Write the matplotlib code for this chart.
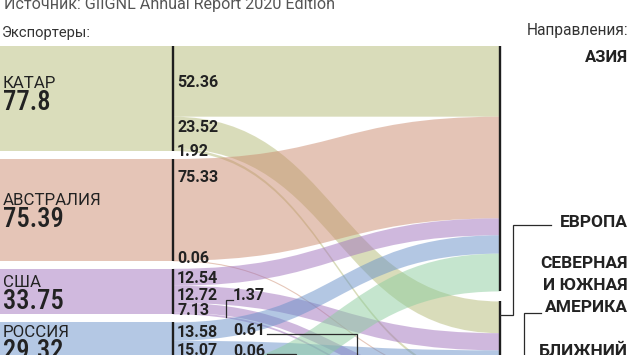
import matplotlib
matplotlib.use("Agg")
import matplotlib.pyplot as plt
from matplotlib.path import Path
from matplotlib.patches import PathPatch, Rectangle
from matplotlib import font_manager as fm
from matplotlib.font_manager import FontProperties
from matplotlib.textpath import TextPath

# ---------------- data ----------------
exporters = ["КАТАР", "АВСТРАЛИЯ", "США", "РОССИЯ", "МАЛАЙЗИЯ"]
exporter_totals = [77.8, 75.39, 33.75, 29.32, 28.0]
destinations = ["АЗИЯ", "ЕВРОПА", "АМЕРИКА", "БЛИЖНИЙ ВОСТОК"]
flow_src = [0, 0, 0, 1, 1, 2, 2, 2, 2, 3, 3, 3, 3, 4]
flow_dst = [0, 1, 2, 0, 2, 0, 1, 2, 3, 0, 1, 2, 3, 0]
flow_val = [52.36, 23.52, 1.92, 75.33, 0.06, 12.54, 12.72, 7.13, 1.37,
            13.58, 15.07, 0.61, 0.06, 28.0]
flow_labels = ["52.36", "23.52", "1.92", "75.33", "0.06", "12.54", "12.72",
               "7.13", "1.37", "13.58", "15.07", "0.61", "0.06", None]
exporter_total_labels = ["77.8", "75.39", "33.75", "29.32", None]

# ---------------- style / layout ----------------
node_colors = [(218, 221, 187), (229, 197, 183), (208, 185, 222),
               (180, 200, 228), (198, 230, 207)]
ALPHA = 0.5
S = 1.35          # px per Mt
TOP = 46          # px
GAP_L = 8 / S     # Mt units
GAP_R = 10 / S
X_L, X_R = 173, 500
W, H = 630, 355

# label layout: flow index -> (x px, dy px from segment centre)
label_layout = {0: (177, 0), 1: (177, -6), 2: (177, 0), 3: (177, -34),
                4: (177, -4), 5: (177, 0), 6: (177, 0), 7: (177, 1),
                8: (233, -19), 9: (177, 0), 10: (177, -2),
                11: (233, -32.5), 12: (233, -12)}
name_nudge = [-6, 0, 0, 0, 0]   # px

NAME_FONT = ["Roboto", "DejaVu Sans"]
TXT = "#222222"

# pick a narrow, medium-weight face for the big exporter totals
# (target: "75.39" ~58 px wide, ~19.5 px tall)
TARGET_RATIO = 3.0
TARGET_H = 19.5


def weight_num(w):
    try:
        return int(w)
    except Exception:
        return {"normal": 400, "regular": 400, "book": 400, "medium": 500,
                "bold": 700, "light": 300}.get(str(w).lower(), 400)


def pick_number_font():
    best = None
    bad = ("mono", "serif", "cjk", "math", "symbol", "emoji", "cmr", "cmex", "cmsy",
           "cmmi", "cmtt", "cmb", "stix", "display")
    seen = set()
    for f in fm.fontManager.ttflist:
        nm = f.name.lower()
        fn = f.fname.lower()
        if f.fname in seen:
            continue
        seen.add(f.fname)
        if f.style != "normal" or any(b in nm or b in fn for b in bad):
            continue
        if "italic" in fn or "oblique" in fn or "light" in fn or "thin" in fn:
            continue
        w = weight_num(f.weight)
        if w < 380 or w > 600:
            continue
        try:
            prop = FontProperties(fname=f.fname, size=100)
            ext = TextPath((0, 0), "75.39", prop=prop).get_extents()
        except Exception:
            continue
        if ext.height <= 0:
            continue
        ratio = ext.width / ext.height
        score = abs(ratio - TARGET_RATIO) + abs(w - 500) * 0.003
        if best is None or score < best[0]:
            best = (score, f.fname, ext.height)
    return best


pick = pick_number_font()
if pick:
    NUM_PROP = FontProperties(fname=pick[1], size=TARGET_H * 0.72 * 100 / pick[2])
else:
    NUM_PROP = FontProperties(family=["Roboto", "DejaVu Sans"], size=17.5)


def rgb(c):
    return tuple(v / 255 for v in c)


def base_color(c):
    return tuple(max(0.0, 1 - (1 - v / 255) / ALPHA) for v in c)


fig = plt.figure(figsize=(W / 100, H / 100), dpi=100)
ax = fig.add_axes([0, 0, 1, 1])
ax.set_xlim(0, W)
ax.set_ylim((H - TOP) / S, -TOP / S)
ax.axis("off")


def py(p):
    return (p - TOP) / S


# ---- node positions ----
left_top = []
cur = 0.0
for t in exporter_totals:
    left_top.append(cur)
    cur += t + GAP_L

dest_tot = [0.0] * len(destinations)
for d, v in zip(flow_dst, flow_val):
    dest_tot[d] += v
right_top = []
cur = 0.0
for t in dest_tot:
    right_top.append(cur)
    cur += t + GAP_R

# ---- left node rectangles ----
for i, t in enumerate(exporter_totals):
    ax.add_patch(Rectangle((0, left_top[i]), X_L, t, facecolor=rgb(node_colors[i]),
                           edgecolor="none", zorder=1))

# ---- flows ----
lcur = list(left_top)
rcur = list(right_top)
seg = []
for k, (s, d, v) in enumerate(zip(flow_src, flow_dst, flow_val)):
    y0t, y0b = lcur[s], lcur[s] + v
    y1t, y1b = rcur[d], rcur[d] + v
    lcur[s] += v
    rcur[d] += v
    seg.append((y0t, y0b))
    xm = (X_L + X_R) / 2
    verts = [(X_L, y0t), (xm, y0t), (xm, y1t), (X_R, y1t), (X_R, y1b),
             (xm, y1b), (xm, y0b), (X_L, y0b), (X_L, y0t)]
    codes = [Path.MOVETO, Path.CURVE4, Path.CURVE4, Path.CURVE4, Path.LINETO,
             Path.CURVE4, Path.CURVE4, Path.CURVE4, Path.CLOSEPOLY]
    col = base_color(node_colors[s])
    ax.add_patch(PathPatch(Path(verts, codes), facecolor=col, alpha=ALPHA,
                           edgecolor="none", zorder=2))
    if v < 1:
        yc0, yc1 = (y0t + y0b) / 2, (y1t + y1b) / 2
        lv = [(X_L, yc0), (xm, yc0), (xm, yc1), (X_R, yc1)]
        lc = [Path.MOVETO, Path.CURVE4, Path.CURVE4, Path.CURVE4]
        ax.add_patch(PathPatch(Path(lv, lc), facecolor="none", edgecolor=col,
                               alpha=0.45, lw=0.8, zorder=2))

# ---- axis lines ----
for i, t in enumerate(exporter_totals):
    ax.plot([X_L, X_L], [left_top[i], left_top[i] + t], color="#1e1e1e", lw=1.7,
            zorder=4, solid_capstyle="butt")
for j, t in enumerate(dest_tot):
    ax.plot([X_R, X_R], [right_top[j], right_top[j] + t], color="#1e1e1e", lw=1.7,
            zorder=4, solid_capstyle="butt")

# ---- texts ----
ax.text(4, py(8.5), "Источник: GIIGNL Annual Report 2020 Edition", family=NAME_FONT,
        fontsize=11.6, color="#555555", va="baseline", ha="left")
ax.text(2, py(37), "Экспортеры:", family=NAME_FONT, fontsize=10.6, color="#333333",
        va="baseline", ha="left")
ax.text(628, py(35), "Направления:", family=NAME_FONT, fontsize=11.2, color="#333333",
        va="baseline", ha="right")

for i, name in enumerate(exporters):
    if exporter_total_labels[i] is None:
        continue
    c = left_top[i] + exporter_totals[i] / 2 + name_nudge[i] / S
    ax.text(3, c - 5 / S, name, family=NAME_FONT, fontsize=12.2, color=TXT,
            va="baseline", ha="left", zorder=5)
    ax.text(3, c + 17 / S, exporter_total_labels[i], fontproperties=NUM_PROP,
            color=TXT, va="baseline", ha="left", zorder=5)

for k, lab in enumerate(flow_labels):
    if lab is None or k not in label_layout:
        continue
    xk, dy = label_layout[k]
    c = (seg[k][0] + seg[k][1]) / 2 + (dy + 5.8) / S
    ax.text(xk, c, lab, family=NAME_FONT, fontsize=11.5, fontweight="bold",
            color=TXT, va="baseline", ha="left", zorder=5)

# destination labels
ax.text(628, py(62), "АЗИЯ", family=NAME_FONT, fontsize=12, fontweight="bold",
        color=TXT, va="baseline", ha="right")
ax.text(628, py(227), "ЕВРОПА", family=NAME_FONT, fontsize=12.5, fontweight="bold",
        color=TXT, va="baseline", ha="right")
for yb, s_ in [(268, "СЕВЕРНАЯ"), (290, "И ЮЖНАЯ"), (312, "АМЕРИКА")]:
    ax.text(628, py(yb), s_, family=NAME_FONT, fontsize=12.5, fontweight="bold",
            color=TXT, va="baseline", ha="right")
ax.text(628, py(356), "БЛИЖНИЙ", family=NAME_FONT, fontsize=12.5, fontweight="bold",
        color=TXT, va="baseline", ha="right")

# connectors (layout in px)
connectors = [
    [(226, 317), (226, 300), (233, 300)],
    [(267, 334), (357, 334), (357, 360)],
    [(267, 354), (296, 354), (296, 360)],
    [(551, 225), (513, 225), (513, 315), (500, 315)],
    [(541, 313), (524, 313), (524, 360)],
]
for pts in connectors:
    ax.plot([p[0] for p in pts], [py(p[1]) for p in pts], color="#2a2a2a", lw=0.9,
            zorder=5, solid_joinstyle="miter")

fig.savefig("out.png", dpi=100)
